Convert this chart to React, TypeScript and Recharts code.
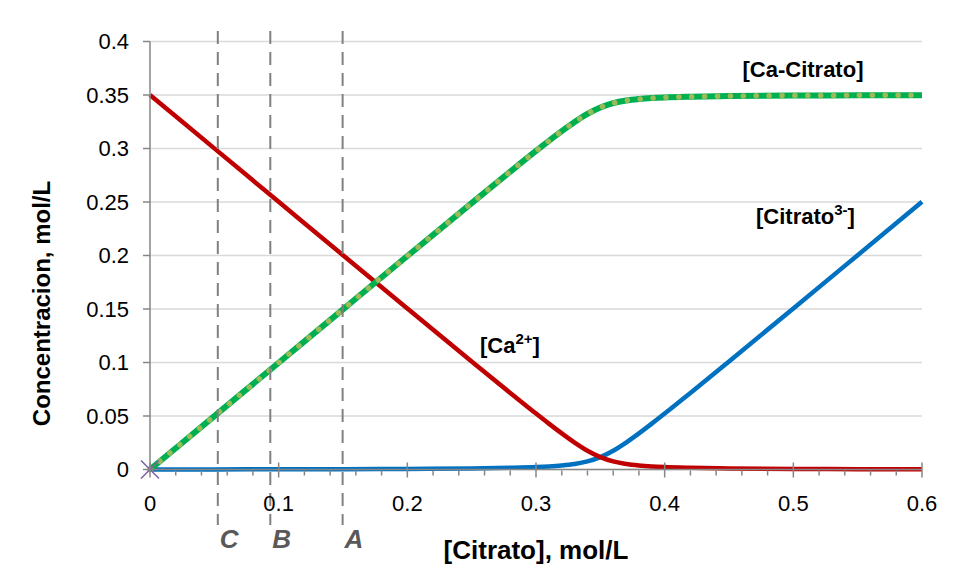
import React from 'react';
import { LineChart, Line, XAxis, YAxis, CartesianGrid, ReferenceLine, ReferenceDot } from 'recharts';

const FONT = '"Liberation Sans", Arial, sans-serif';

const citratoTotal = [0, 0.05, 0.1, 0.15, 0.2, 0.25, 0.28, 0.3, 0.31, 0.32, 0.33, 0.34, 0.35, 0.36, 0.37, 0.38, 0.39, 0.4, 0.42, 0.45, 0.5, 0.55, 0.6];
const caFree = [0.35, 0.3001, 0.2502, 0.2003, 0.1505, 0.101, 0.0716, 0.0523, 0.0429, 0.0338, 0.0252, 0.0176, 0.0116, 0.0076, 0.0052, 0.0038, 0.0029, 0.0023, 0.0016, 0.001, 0.0005, 0.0003, 0.0002];
const caCitrato = [0, 0.0499, 0.0998, 0.1497, 0.1995, 0.249, 0.2784, 0.2977, 0.3071, 0.3162, 0.3248, 0.3324, 0.3384, 0.3424, 0.3448, 0.3462, 0.3471, 0.3477, 0.3484, 0.349, 0.3495, 0.3497, 0.3498];
const citratoFree = [0, 0.0001, 0.0002, 0.0003, 0.0005, 0.001, 0.0016, 0.0023, 0.0029, 0.0038, 0.0052, 0.0076, 0.0116, 0.0176, 0.0252, 0.0338, 0.0429, 0.0523, 0.0716, 0.101, 0.1505, 0.2003, 0.2502];
const originMarker = [0];

const xMajorTicks = [0, 0.1, 0.2, 0.3, 0.4, 0.5, 0.6];
const xMinorTicks = [0.02, 0.04, 0.06, 0.08, 0.12, 0.14, 0.16, 0.18, 0.22, 0.24, 0.26, 0.28, 0.32, 0.34, 0.36, 0.38, 0.42, 0.44, 0.46, 0.48, 0.52, 0.54, 0.56, 0.58];
const yTicks = [0, 0.05, 0.1, 0.15, 0.2, 0.25, 0.3, 0.35, 0.4];

const refLines = [
  { x: 0.0527, label: 'C' },
  { x: 0.0935, label: 'B' },
  { x: 0.1497, label: 'A' },
];

const annotations = [
  { x: 0.5075, y: 0.3668, anchor: 'middle', main: '[Ca-Citrato]', sup: '', tail: '' },
  { x: 0.2565, y: 0.1089, anchor: 'start', main: '[Ca', sup: '2+', tail: ']' },
  { x: 0.471, y: 0.2294, anchor: 'start', main: '[Citrato', sup: '3-', tail: ']' },
];

const data = citratoTotal.map((x, i) => ({
  x,
  ca: caFree[i],
  cacit: caCitrato[i],
  cit: citratoFree[i],
  marker: i < originMarker.length ? originMarker[i] : null,
}));

const allXTicks = [...xMajorTicks, ...xMinorTicks].sort((a, b) => a - b);
const isMajor = (v: number) => xMajorTicks.some((m) => Math.abs(m - v) < 1e-9);
const fmt = (v: number) => String(Number(v.toFixed(2)));

const AXIS = '#868686';

const XTick = (props: any) => {
  const { x, y, payload } = props;
  const v = payload.value;
  if (isMajor(v)) {
    return (
      <g>
        <line x1={x} x2={x} y1={y - 7} y2={y + 8} stroke={AXIS} strokeWidth={1.5} />
        <text x={x} y={y + 41.5} textAnchor="middle" fontFamily={FONT} fontSize={22} fill="#000">{fmt(v)}</text>
      </g>
    );
  }
  return <line x1={x} x2={x} y1={y + 1} y2={y + 6} stroke={AXIS} strokeWidth={1.5} />;
};

const YTick = (props: any) => {
  const { x, y, payload } = props;
  return (
    <g>
      <line x1={x - 7} x2={x} y1={y} y2={y} stroke={AXIS} strokeWidth={1.5} />
      <text x={x - 21} y={y} dy="0.36em" textAnchor="end" fontFamily={FONT} fontSize={22} fill="#000">{fmt(payload.value)}</text>
    </g>
  );
};

const MarkerDot = (props: any) => {
  const { cx, cy, value, index } = props;
  if (value === null || value === undefined || cx == null || cy == null) return <g key={`m${index}`} />;
  const s = 9;
  return (
    <g key={`m${index}`}>
      <line x1={cx - s} y1={cy - s} x2={cx + s} y2={cy + s} stroke="#8064A2" strokeWidth={1.6} />
      <line x1={cx - s} y1={cy + s} x2={cx + s} y2={cy - s} stroke="#8064A2" strokeWidth={1.6} />
    </g>
  );
};

export default function App() {
  return (
    <div style={{ position: 'absolute', left: 0, top: 0, width: 961, height: 584, background: '#fff' }}>
      <LineChart
        width={961}
        height={584}
        data={data}
        margin={{ top: 41.5, right: 39, bottom: 74.5, left: 90 }}
      >
        <CartesianGrid vertical={false} stroke="#D9D9D9" strokeWidth={1.5} />
        <XAxis
          type="number"
          dataKey="x"
          domain={[0, 0.6]}
          ticks={allXTicks}
          interval={0}
          height={40}
          tickLine={false}
          tickSize={0}
          tickMargin={0}
          axisLine={{ stroke: AXIS, strokeWidth: 1.5 }}
          tick={<XTick />}
          label={{
            content: (p: any) => {
              const vb = p.viewBox || {};
              return (
                <text x={vb.x + vb.width / 2} y={vb.y + 89.5} textAnchor="middle" fontFamily={FONT} fontSize={26} fontWeight="bold" fill="#000">
                  [Citrato], mol/L
                </text>
              );
            },
          }}
        />
        <YAxis
          type="number"
          domain={[0, 0.4]}
          ticks={yTicks}
          interval={0}
          width={60}
          tickLine={false}
          tickSize={0}
          tickMargin={0}
          axisLine={{ stroke: AXIS, strokeWidth: 1.5 }}
          tick={<YTick />}
          label={{
            content: (p: any) => {
              const vb = p.viewBox || {};
              const cx = vb.x - 49;
              const cy = vb.y + vb.height / 2 + 48;
              return (
                <text x={cx} y={cy} transform={`rotate(-90 ${cx} ${cy})`} textAnchor="middle" dy="0.36em" fontFamily={FONT} fontSize={24} fontWeight="bold" fill="#000">
                  Concentracion, mol/L
                </text>
              );
            },
          }}
        />
        <Line type="monotone" dataKey="cit" stroke="#0070C0" strokeWidth={4.5} dot={false} isAnimationActive={false} />
        <Line type="monotone" dataKey="ca" stroke="#C00000" strokeWidth={4.5} dot={false} isAnimationActive={false} />
        <Line type="monotone" dataKey="cacit" stroke="#00B050" strokeWidth={6} dot={false} isAnimationActive={false} />
        <Line type="monotone" dataKey="cacit" stroke="#9BBB59" strokeWidth={5.5} strokeLinecap="round" strokeDasharray="0.1 12.8" dot={false} isAnimationActive={false} />
        <Line dataKey="marker" stroke="none" dot={<MarkerDot />} activeDot={false} isAnimationActive={false} />
        {refLines.map((r) => (
          <ReferenceLine
            key={r.label}
            x={r.x}
            ifOverflow="visible"
            shape={(p: any) => {
              const top = Math.min(p.y1, p.y2);
              const bot = Math.max(p.y1, p.y2);
              return (
                <g>
                  <line x1={p.x1} x2={p.x2} y1={top - 10.5} y2={bot + 55.5} stroke="#808080" strokeWidth={2} strokeDasharray="13 8" />
                  <text x={p.x1 + 2} y={bot + 78} fontFamily={FONT} fontSize={26} fontStyle="italic" fontWeight="bold" fill="#595959">{r.label}</text>
                </g>
              );
            }}
          />
        ))}
        {annotations.map((a) => (
          <ReferenceDot
            key={a.main}
            x={a.x}
            y={a.y}
            r={0}
            ifOverflow="visible"
            shape={(p: any) => (
              <text x={p.cx} y={p.cy} textAnchor={a.anchor} fontFamily={FONT} fontSize={22} fontWeight="bold" fill="#000">
                {a.main}
                {a.sup ? <tspan fontSize={15} dy={-9}>{a.sup}</tspan> : null}
                {a.tail ? <tspan dy={9}>{a.tail}</tspan> : null}
              </text>
            )}
          />
        ))}
      </LineChart>
    </div>
  );
}
